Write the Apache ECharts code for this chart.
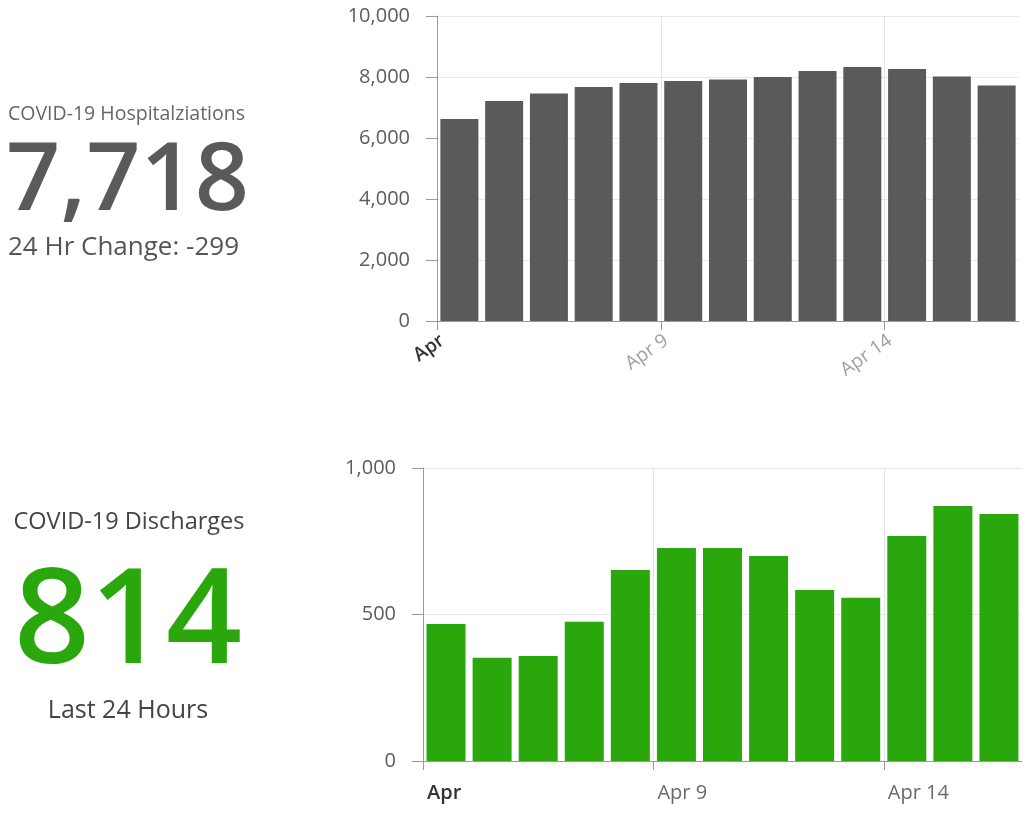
<!DOCTYPE html>
<html lang="en">
  <head>
    <meta charset="UTF-8" />
    <script src="https://cdn.jsdelivr.net/npm/echarts@6/dist/echarts.min.js"></script>
    <title>COVID-19 Hospitalizations</title>
    <style>
      html,
      body,
      #main {
        width: 100%;
        height: 100%;
        margin: 0;
        padding: 0;
        overflow: hidden;
        background: #fff;
      }
    </style>
  </head>
  <body>
    <div id="main"></div>
    <script>
      const days = ["Apr 4", "Apr 5", "Apr 6", "Apr 7", "Apr 8", "Apr 9", "Apr 10",
        "Apr 11", "Apr 12", "Apr 13", "Apr 14", "Apr 15", "Apr 16"];
      const hospitalized = [6620, 7210, 7460, 7670, 7800, 7870, 7920, 8000, 8195, 8325, 8260, 8017, 7718];
      const discharges = [468, 352, 358, 475, 652, 727, 727, 700, 584, 557, 768, 870, 843];
      const tickLabels = ["Apr", "Apr 9", "Apr 14"];
      const tickDays = [0, 5, 10];

      const font = "'Open Sans', Lato, sans-serif";
      const green = "#2aa70c";
      const grey = "#5a5a5a";

      function toPoints(values) {
        return values.map((v, i) => [i + 0.5, v]);
      }
      function dayLabel(v) {
        const k = tickDays.indexOf(v);
        if (k < 0) return "";
        // first label ("Apr") is drawn darker
        return k === 0 ? "{first|" + tickLabels[k] + "}" : tickLabels[k];
      }

      function xAxisFor(g) {
        const top = g === 0;
        return {
          type: "value",
          gridIndex: g,
          min: 0,
          max: days.length,
          interval: 5,
          axisLine: { show: true, lineStyle: { color: "#9a9a9a" } },
          axisTick: { show: true, length: 9, customValues: tickDays, lineStyle: { color: "#9a9a9a" } },
          splitLine: { show: true, lineStyle: { color: "#e3e3e3" } },
          axisLabel: {
            customValues: tickDays,
            formatter: dayLabel,
            fontFamily: font,
            fontSize: top ? 19 : 20,
            color: top ? "#a0a0a0" : "#6a6a6a",
            rotate: top ? 35 : 0,
            align: top ? undefined : "left",
            verticalAlign: top ? "top" : undefined,
            padding: top ? 0 : [0, 0, 0, 4],
            margin: top ? 10 : 22,
            rich: {
              first: { fontFamily: font, fontSize: top ? 19 : 20, color: "#333", fontWeight: 600 },
            },
          },
        };
      }

      function yAxisFor(g, max, step) {
        return {
          type: "value",
          gridIndex: g,
          min: 0,
          max: max,
          interval: step,
          axisLine: { show: true, lineStyle: { color: "#9a9a9a" } },
          axisTick: { show: true, length: 11, lineStyle: { color: "#9a9a9a" } },
          splitLine: { lineStyle: { color: "#e8e8e8" } },
          axisLabel: {
            fontFamily: font,
            fontSize: 20,
            color: "#5c5c5c",
            margin: 27,
            formatter: (v) => v.toLocaleString("en-US"),
          },
        };
      }

      const chart = echarts.init(document.getElementById("main"));

      chart.setOption({
        animation: false,
        grid: [
          { left: 437, right: 10, top: 16, height: 305 },
          { left: 423, right: 7, top: 468, height: 293 },
        ],
        xAxis: [xAxisFor(0), xAxisFor(1)],
        yAxis: [yAxisFor(0, 10000, 2000), yAxisFor(1, 1000, 500)],
        series: [
          {
            type: "bar",
            xAxisIndex: 0,
            yAxisIndex: 0,
            data: toPoints(hospitalized),
            barWidth: 38,
            itemStyle: { color: grey },
          },
          {
            type: "bar",
            xAxisIndex: 1,
            yAxisIndex: 1,
            data: toPoints(discharges),
            barWidth: 39,
            itemStyle: { color: green },
          },
        ],
        graphic: [
          {
            type: "text",
            x: 8,
            y: 114,
            style: { text: "COVID-19 Hospitalziations", font: "19.5px " + font, fill: "#666", verticalAlign: "middle" },
          },
          {
            type: "text",
            x: 6,
            y: 183,
            style: { text: "7,718", font: "600 95px " + font, fill: grey, verticalAlign: "middle" },
          },
          {
            type: "text",
            x: 8,
            y: 248,
            style: { text: "24 Hr Change: -299", font: "26px " + font, fill: "#555", verticalAlign: "middle" },
          },
          {
            type: "text",
            x: 129,
            y: 522,
            style: { text: "COVID-19 Discharges", font: "23.5px " + font, fill: "#444", align: "center", verticalAlign: "middle" },
          },
          {
            type: "text",
            x: 128,
            y: 625,
            style: { text: "814", font: "600 133px " + font, fill: green, align: "center", verticalAlign: "middle" },
          },
          {
            type: "text",
            x: 128,
            y: 711,
            style: { text: "Last 24 Hours", font: "25px " + font, fill: "#444", align: "center", verticalAlign: "middle" },
          },
        ],
      });
    </script>
  </body>
</html>
